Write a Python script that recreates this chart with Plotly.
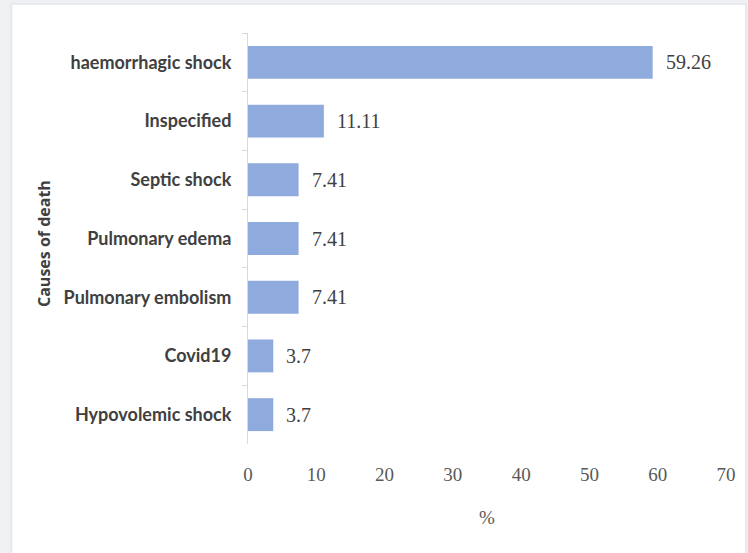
import plotly.graph_objects as go

categories = ["haemorrhagic shock", "Inspecified", "Septic shock", "Pulmonary edema",
              "Pulmonary embolism", "Covid19", "Hypovolemic shock"]
values = [59.26, 11.11, 7.41, 7.41, 7.41, 3.7, 3.7]
value_labels = ["59.26", "11.11", "7.41", "7.41", "7.41", "3.7", "3.7"]
x_ticks = [0, 10, 20, 30, 40, 50, 60, 70]

W, H = 748, 553
L, R, T, B = 248, 15, 33, 109
pw, ph = W - L - R, H - T - B

def px_x(p):
    return (p - L) / pw

def px_y(p):
    return (H - B - p) / ph

fig = go.Figure()
fig.add_trace(go.Bar(
    x=values, y=categories, orientation="h",
    marker=dict(color="#8faadc", line=dict(width=0)),
    hoverinfo="skip",
))

for v, c, t in zip(values, categories, value_labels):
    fig.add_annotation(x=v, y=c, text=t, showarrow=False, xanchor="left", xshift=11,
                       font=dict(family="Liberation Serif", size=20, color="#404040"))

fig.add_annotation(x=px_x(41), y=px_y(243), xref="paper", yref="paper",
                   xanchor="center", yanchor="middle", text="<b>Causes of death</b>",
                   textangle=-90, showarrow=False,
                   font=dict(family="Open Sans", size=16, color="#404040"))

shapes = [
    dict(type="rect", xref="paper", yref="paper", layer="below",
         x0=px_x(8), x1=px_x(W + 5), y0=px_y(H + 5), y1=px_y(4),
         fillcolor="white", line=dict(color="#e4e6e9", width=1.5)),
]

fig.update_layout(
    width=W, height=H,
    margin=dict(l=L, r=R, t=T, b=B),
    paper_bgcolor="#eef0f3", plot_bgcolor="rgba(0,0,0,0)",
    showlegend=False, bargap=0.44,
    shapes=shapes,
    xaxis=dict(range=[0, 70], tickvals=x_ticks, showgrid=False, zeroline=False,
               showline=False, ticks="", ticklabelstandoff=17,
               tickfont=dict(family="Liberation Serif", size=19, color="#595959"),
               title=dict(text="%", standoff=26,
                          font=dict(family="Liberation Serif", size=19, color="#595959"))),
    yaxis=dict(categoryorder="array", categoryarray=categories, autorange="reversed",
               showgrid=False, zeroline=False, showline=True, linecolor="#d9d9d9", linewidth=1,
               ticks="outside", tickson="boundaries", ticklen=5, tickcolor="#d9d9d9",
               ticklabelstandoff=12,
               tickfont=dict(family="Lato", size=18, color="#404040", weight="bold")),
)

fig.write_html("out.html")
